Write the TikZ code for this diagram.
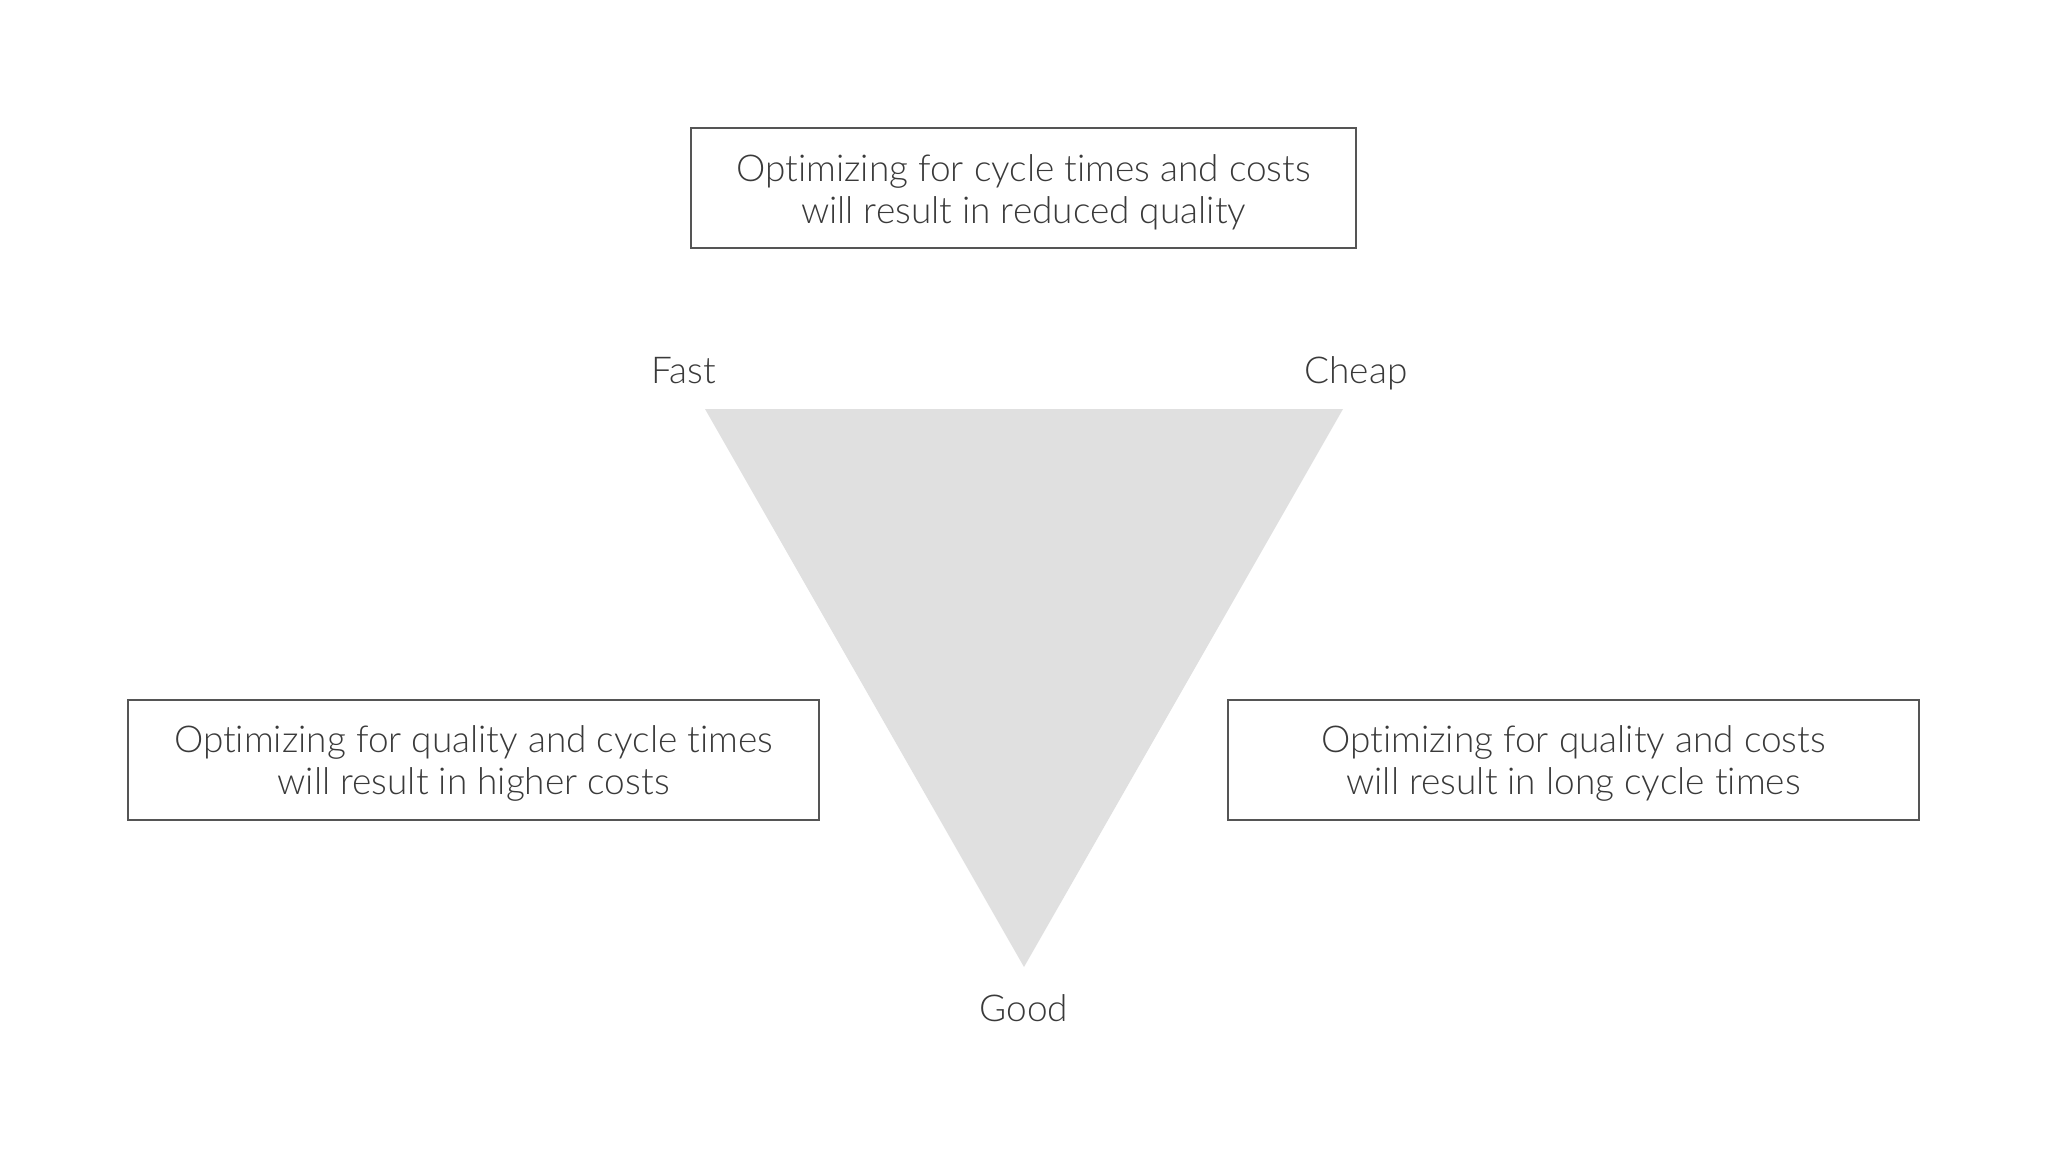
\documentclass[tikz,border=0pt]{standalone}
\usepackage{fontspec}
\setmainfont{Lato}[UprightFont={* Light},RawFeature={-liga}]
\definecolor{txt}{HTML}{3A3A3A}
\definecolor{frame}{HTML}{555555}
\definecolor{tri}{HTML}{E0E0E0}
\begin{document}
\begin{tikzpicture}[x=1pt,y=-1pt,
  msgbox/.style={draw=frame,line width=2pt,minimum height=120pt,inner sep=0pt},
  msgtext/.style={align=center,text=txt,font=\fontsize{37}{42}\selectfont,inner sep=0pt,yshift=-4pt},
  cornerlbl/.style={text=txt,font=\fontsize{37}{42}\selectfont,inner sep=0pt,anchor=base}]
\useasboundingbox (0,0) rectangle (2048,1151);
\fill[white] (0,0) rectangle (2048,1151);
\coordinate (tl) at (705,409);
\coordinate (tr) at (1343,409);
\coordinate (bt) at (1024,967);
\fill[tri] (tl) -- (tr) -- (bt) -- cycle;
\node[msgbox,minimum width=665pt] (top) at (1023.5,188) {};
\node[msgtext] (toptext) at (top.center) {Optimizing for cycle times and costs\\will result in reduced quality};
\node[msgbox,minimum width=691pt] (left) at (473.5,759.5) {};
\node[msgtext] (lefttext) at (left.center) {Optimizing for quality and cycle times\\will result in higher costs};
\node[msgbox,minimum width=691pt] (right) at (1573.5,759.5) {};
\node[msgtext] (righttext) at (right.center) {Optimizing for quality and costs\\will result in long cycle times};
\node[cornerlbl] (fast) at (684,383) {Fast};
\node[cornerlbl] (cheap) at (1356,383) {Cheap};
\node[cornerlbl] (good) at (1024,1021) {Good};
\end{tikzpicture}
\end{document}
